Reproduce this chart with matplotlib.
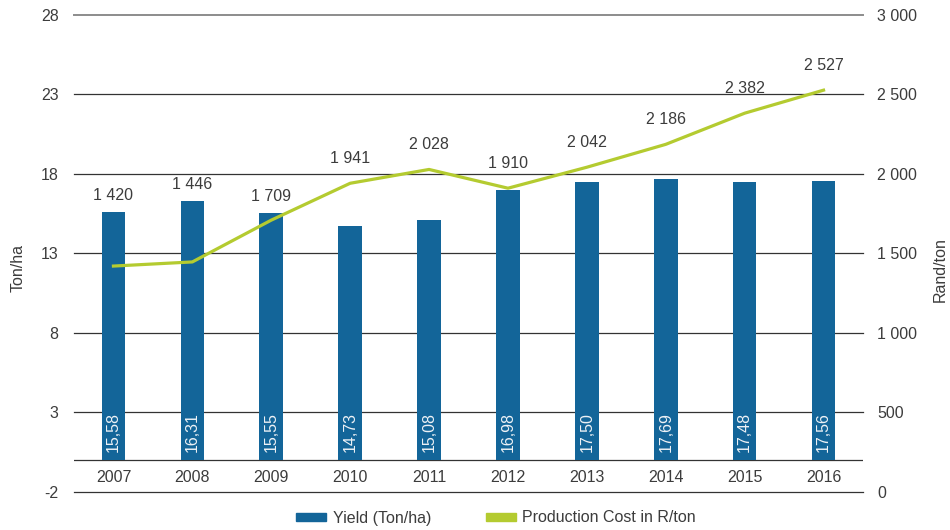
import matplotlib
matplotlib.use("Agg")
import matplotlib.pyplot as plt
from matplotlib.patches import Patch

years = ["2007", "2008", "2009", "2010", "2011", "2012", "2013", "2014", "2015", "2016"]
yield_ton_ha = [15.58, 16.31, 15.55, 14.73, 15.08, 16.98, 17.50, 17.69, 17.48, 17.56]
cost_r_ton = [1420, 1446, 1709, 1941, 2028, 1910, 2042, 2186, 2382, 2527]

left_ticks = [-2, 3, 8, 13, 18, 23, 28]
right_ticks = [0, 500, 1000, 1500, 2000, 2500, 3000]

BLUE = "#136599"
GREEN = "#b4cb30"
TXT = "#3c3c3c"
FS = 11.5

plt.rcParams["font.family"] = ["Liberation Sans", "DejaVu Sans"]
plt.rcParams["axes.unicode_minus"] = False

fig = plt.figure(figsize=(9.5, 5.3), dpi=100)
ax = fig.add_axes([74 / 950, 1 - 491.7 / 530, (863 - 74) / 950, (491.7 - 15) / 530])
ax2 = ax.twinx()

x = list(range(len(years)))

# yield bars on the left axis
ax.set_ylim(-2, 28)
ax.set_xlim(-0.5, len(years) - 0.5)
ax.set_yticks(left_ticks)
for t in left_ticks[:-1]:
    ax.axhline(t, color="#333333", lw=0.9, zorder=0, clip_on=False)
ax.axhline(28, color="#8c8c8c", lw=1.4, zorder=0, clip_on=False)
ax.axhline(0, color="#333333", lw=0.9, zorder=0)
ax.bar(x, yield_ton_ha, width=0.30, color=BLUE, zorder=2)
for xi, v in zip(x, yield_ton_ha):
    ax.text(xi, 0.5, f"{v:.2f}".replace(".", ","), rotation=90, ha="center",
            va="bottom", color="#eef2f6", fontsize=FS, zorder=3)
for xi, yr in zip(x, years):
    ax.text(xi, -1.1, yr, ha="center", va="center", color=TXT, fontsize=FS)

ax.set_xticks([])
ax.tick_params(axis="y", length=0, pad=11, labelsize=FS, labelcolor=TXT)
for s in ax.spines.values():
    s.set_visible(False)

# production cost line on the right axis
ax2.set_ylim(0, 3000)
ax2.set_yticks(right_ticks)
ax2.set_yticklabels([f"{t:,}".replace(",", " ") for t in right_ticks])
ax2.tick_params(axis="y", length=0, pad=10, labelsize=FS, labelcolor=TXT)
for s in ax2.spines.values():
    s.set_visible(False)
ax2.plot(x, cost_r_ton, color=GREEN, lw=2.3, zorder=4)

for xi, c, yv in zip(x, cost_r_ton, yield_ton_ha):
    bar_top = (yv + 2) / 30 * 3000
    if c >= bar_top:
        anchor, off = c, 18
    else:
        anchor, off = bar_top, 12
    ax2.annotate(f"{c:,}".replace(",", " "), (xi, anchor), xytext=(0, off),
                 textcoords="offset points", ha="center", va="center",
                 color=TXT, fontsize=FS)

fig.text(18 / 950, 1 - 268 / 530, "Ton/ha", rotation=90, ha="center", va="center",
         color=TXT, fontsize=FS)
fig.text(940 / 950, 1 - 270 / 530, "Rand/ton", rotation=90, ha="center", va="center",
         color=TXT, fontsize=FS)

handles = [Patch(color=BLUE, label="Yield (Ton/ha)"),
           Patch(color=GREEN, label="Production Cost in R/ton")]
fig.legend(handles=handles, loc="center", bbox_to_anchor=(496 / 950, 1 - 518 / 530),
           ncol=2, frameon=False, fontsize=FS, labelcolor=TXT, handlelength=1.9,
           handleheight=0.45, handletextpad=0.4, columnspacing=3.4)

fig.savefig("out.png", dpi=100)
